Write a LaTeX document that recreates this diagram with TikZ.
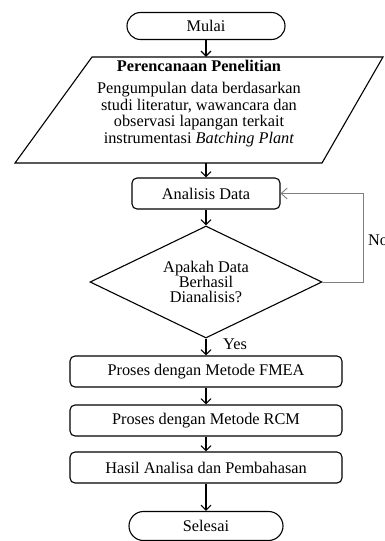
\documentclass[tikz,border=0pt]{standalone}
\usepackage{fontspec}
\setmainfont{Liberation Serif}
\usetikzlibrary{shapes.geometric,arrows.meta}
\begin{document}
\begin{tikzpicture}[x=1pt,y=-1pt,
  txt/.style={font=\fontsize{16.3}{16.5}\selectfont, inner sep=0pt},
  base/.style={txt, line width=1.1pt, draw=black},
  term/.style={base, rectangle, rounded corners=13.5pt, minimum height=27pt},
  proc/.style={base, rectangle, rounded corners=5pt, minimum height=31pt},
  dec/.style={base, diamond, aspect=2.07, minimum width=232pt, minimum height=112pt, align=center, font=\fontsize{16.3}{15}\selectfont},
  flow/.style={line width=1.1pt, -{Straight Barb[length=5pt,width=10pt]}},
  fbline/.style={line width=0.9pt, draw=gray, -{Straight Barb[length=6pt,width=11pt]}},
  lbl/.style={txt}
]
\useasboundingbox (0,0) rectangle (385,541);

\node[term, minimum width=158pt] (mulai) at (206,26) {Mulai};

\node[inner sep=0pt, minimum width=230pt, minimum height=106pt] (plan) at (199,110) {};
\draw[line width=1.1pt] (92,57) -- (383,57) -- (322,163) -- (15,163) -- cycle;
\node[lbl, align=center] (plantext) at (199,103.5) {\textbf{Perencanaan Penelitian}\\[6pt]
  Pengumpulan data berdasarkan\\ studi literatur, wawancara dan\\
  observasi lapangan terkait\\ instrumentasi \textit{Batching Plant}};

\node[proc, minimum width=148pt] (ana) at (206,193.5) {Analisis Data};
\node[dec] (dia) at (206,282) {Apakah Data\\Berhasil\\Dianalisis?};
\node[proc, minimum width=272pt] (fmea) at (206,371.5) {Proses dengan Metode FMEA};
\node[proc, minimum width=272pt] (rcm) at (206,420.5) {Proses dengan Metode RCM};
\node[proc, minimum width=272pt] (hasil) at (206,467.5) {Hasil Analisa dan Pembahasan};
\node[term, minimum width=154pt, minimum height=29pt, rounded corners=14.5pt] (sel) at (206,526) {Selesai};

\draw[flow] (mulai) -- (mulai |- plan.north);
\draw[flow] (ana |- plan.south) -- (ana);
\draw[flow] (ana) -- (dia);
\draw[flow] (dia) -- (fmea);
\draw[flow] (fmea) -- (rcm);
\draw[flow] (rcm) -- (hasil);
\draw[flow] (hasil) -- (sel);

\coordinate (fbx) at (363,282);
\draw[fbline] (dia.east) -- (fbx) |- (ana.east);

\node[lbl, anchor=west] (no) at (368,240) {No};
\node[lbl] (yes) at (235,344) {Yes};
\end{tikzpicture}
\end{document}
